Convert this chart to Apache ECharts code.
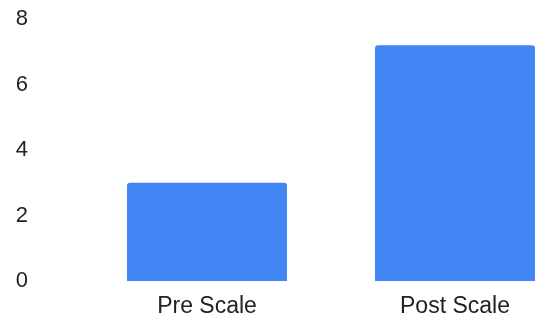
<!DOCTYPE html>
<html>
<head>
<meta charset="utf-8">
<script src="https://cdn.jsdelivr.net/npm/echarts@6/dist/echarts.min.js"></script>
<style>
  html, body { margin: 0; padding: 0; background: #fff; overflow: hidden; }
  /* the canvas is wider than the window; its right part is cut off */
  #chart { width: 579px; height: 321px; }
</style>
</head>
<body>
<div id="chart"></div>
<script>
// Mean score before and after scaling
const categories = ['Pre Scale', 'Post Scale'];
const values = [3.0, 7.2];
const yTicks = [0, 2, 4, 6, 8];

const chart = echarts.init(document.getElementById('chart'), null, { renderer: 'canvas' });
chart.setOption({
  animation: false,
  grid: { left: 83, right: 0, top: 19, bottom: 40 },
  xAxis: {
    type: 'category',
    data: categories,
    axisLine: { show: false },
    axisTick: { show: false },
    axisLabel: {
      margin: 14,
      fontSize: 23,
      color: '#222',
      fontFamily: 'Liberation Sans, Arial, sans-serif'
    }
  },
  yAxis: {
    type: 'value',
    min: yTicks[0],
    max: yTicks[yTicks.length - 1],
    interval: 2,
    splitLine: { show: false },
    axisLine: { show: false },
    axisTick: { show: false },
    axisLabel: {
      margin: 55,
      fontSize: 22,
      color: '#222',
      fontFamily: 'Liberation Sans, Arial, sans-serif'
    }
  },
  series: [{
    type: 'bar',
    data: values,
    barWidth: 160,
    itemStyle: { color: '#4285F4', borderRadius: [3, 3, 0, 0] }
  }]
});
</script>
</body>
</html>
